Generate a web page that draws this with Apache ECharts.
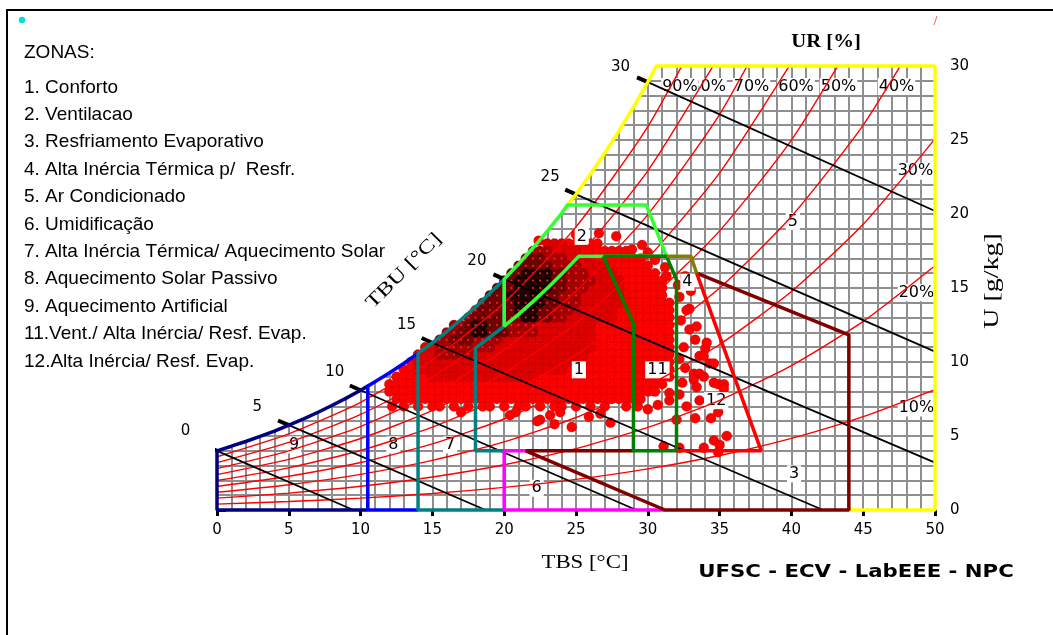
<!DOCTYPE html>
<html>
<head>
<meta charset="utf-8">
<script src="https://cdn.jsdelivr.net/npm/echarts@6/dist/echarts.min.js"></script>
<style>
  html, body { margin: 0; padding: 0; background: #fff; }
  #chart { width: 1053px; height: 635px; }
</style>
</head>
<body>
<div id="chart"></div>
<script>
// Psychrometric chart with Givoni bioclimatic zones and hourly climate records.

// Saturation curve: dry bulb TBS [°C] and humidity ratio U [g/kg]
const SAT_T = [0, 1, 2, 3, 4, 5, 6, 7, 8, 9, 10, 10.5, 11, 12, 13, 14, 15, 16, 17, 18, 19, 20, 21, 22, 23, 24, 24.4, 25, 26, 27, 28, 29, 30, 30.6];
const SAT_U = [4.00, 4.31, 4.63, 4.97, 5.33, 5.73, 6.14, 6.59, 7.06, 7.56, 8.09, 8.37, 8.66, 9.26, 9.90, 10.58, 11.30, 12.06, 12.87, 13.72, 14.64, 15.60, 16.62, 17.70, 18.84, 20.05, 20.60, 21.33, 22.68, 24.11, 25.62, 27.22, 28.91, 30.00];

// Relative humidity curves, U [g/kg] at each TBS of RH_T
const RH_T = [0, 5, 10, 15, 20, 25, 30, 35, 40, 45, 50];
const RH10 = [0.40, 0.57, 0.80, 1.11, 1.53, 2.07, 2.78, 3.68, 4.84, 6.31, 8.14];
const RH20 = [0.80, 1.14, 1.60, 2.23, 3.06, 4.15, 5.58, 7.41, 9.76, 12.74, 16.50];
const RH30 = [1.20, 1.71, 2.41, 3.35, 4.60, 6.25, 8.40, 11.18, 14.76, 19.31, 25.08];
const RH40 = [1.59, 2.28, 3.21, 4.47, 6.15, 8.36, 11.25, 15.00, 19.83, 26.01, 33.90];
const RH50 = [1.99, 2.85, 4.02, 5.60, 7.70, 10.48, 14.13, 18.86, 24.99, 32.86];
const RH60 = [2.39, 3.42, 4.83, 6.73, 9.27, 12.62, 17.03, 22.78, 30.23];
const RH70 = [2.80, 4.00, 5.64, 7.86, 10.84, 14.78, 19.96, 26.73, 35.55];
const RH80 = [3.20, 4.57, 6.46, 9.00, 12.42, 16.95, 22.92, 30.74];
const RH90 = [3.60, 5.15, 7.28, 10.15, 14.01, 19.13, 25.90, 34.80];
const RH_CURVES = [RH10, RH20, RH30, RH40, RH50, RH60, RH70, RH80, RH90];

// RH curve labels
const RH_LABELS = ['80%', '90%', '70%', '60%', '50%', '40%', '30%', '20%', '10%'];
const RH_LABEL_AT = [[34.2, 28.62], [32.24, 28.62], [37.22, 28.62], [40.32, 28.62], [43.28, 28.62], [47.32, 28.62], [48.64, 22.89], [48.71, 14.68], [48.71, 6.9]];

// Wet bulb lines TBU [°C]
const TBU_LABELS = ['0', '5', '10', '15', '20', '25', '30'];
const TBU_TICK_FROM = [[-0.75, 4.32], [4.25, 6.05], [9.25, 8.41], [14.25, 11.62], [19.25, 15.92], [24.25, 21.65], [29.25, 29.23]];
const TBU_ON_SAT = [[0, 4.00], [5, 5.73], [10, 8.09], [15, 11.30], [20, 15.60], [25, 21.33], [30, 28.91]];
const TBU_END = [[9.5, 0], [18.7, 0], [29.2, 0], [42.2, 0], [50, 3.2], [50, 10.7], [50, 20.2]];
const TBU_LABEL_AT = [[-2.2, 5.3], [2.8, 6.95], [8.2, 9.35], [13.2, 12.5], [18.1, 16.8], [23.2, 22.5], [28.1, 29.9]];

// Zone boundaries (corner points; saturation stretches are taken from SAT_T / SAT_U)
const RH80_EDGE = [[20, 12.42], [21, 13.22], [22, 14.08], [23, 14.98], [24, 15.94], [25, 16.95], [25.2, 17.15]];
const Z9_BASE = [[10.5, 0], [0, 0]];
const Z8_BASE = [[14, 0], [10.5, 0]];
const Z7_BASE = [[20, 0], [14, 0]];
const Z7_EDGE = [[20, 12.42], [18, 10.94], [18, 4], [20, 4]];
const Z6_EDGE = [[21.5, 4], [20, 4], [20, 0], [31.2, 0]];
const Z3_EDGE = [[29, 4], [21.5, 4], [31.2, 0], [44, 0], [44, 11.84], [33.4, 16.0]];
const Z5_EDGE = [[50, 30], [50, 0], [44, 0]];
const Z2_TOP = [[31.3, 17.15], [29.9, 20.6]];
const Z2_BOTTOM = [[26.9, 17.15], [31.3, 17.15]];
const Z11_EDGE = [[26.9, 17.15], [31.3, 17.15], [32, 15.56], [32, 4], [29, 4], [29, 12.6], [26.9, 17.15]];
const Z4_EDGE = [[31.3, 17.15], [33.0, 17.15], [33.4, 16.0]];
const Z12_EDGE = [[33.4, 16.0], [37.9, 4], [32, 4]];

const ZONE_LABELS = ['1', '2', '3', '4', '5', '6', '7', '8', '9', '11', '12'];
const ZONE_LABEL_AT = [[25.2, 9.47], [25.4, 18.49], [40.18, 2.44], [32.76, 15.39], [40.1, 19.5], [22.26, 1.47], [16.23, 4.4], [12.28, 4.4], [5.36, 4.4], [30.67, 9.47], [34.76, 7.39]];

const ZONE_NAMES = [
  '1. Conforto',
  '2. Ventilacao',
  '3. Resfriamento Evaporativo',
  '4. Alta Inércia Térmica p/  Resfr.',
  '5. Ar Condicionado',
  '6. Umidificação',
  '7. Alta Inércia Térmica/ Aquecimento Solar',
  '8. Aquecimento Solar Passivo',
  '9. Aquecimento Artificial',
  '11.Vent./ Alta Inércia/ Resf. Evap.',
  '12.Alta Inércia/ Resf. Evap.'
];

// Hourly records, density per 0.5 °C cell: [U, first TBS, [[level, count], ...]]
// level 1 = few hours ... level 5 = most frequent
const CLOUD_RUNS = [
  [18.0, 23.0, [[2, 3], [1, 5]]],
  [17.5, 22.0, [[3, 3], [2, 4], [1, 7]]],
  [17.0, 21.5, [[4, 3], [3, 3], [2, 4], [1, 7]]],
  [16.5, 21.0, [[4, 5], [3, 4], [2, 4], [1, 6]]],
  [16.0, 20.5, [[4, 2], [5, 4], [4, 2], [3, 3], [2, 4], [1, 6]]],
  [15.5, 20.0, [[4, 2], [5, 5], [4, 2], [3, 4], [2, 4], [1, 6]]],
  [15.0, 19.5, [[4, 3], [5, 5], [4, 2], [3, 3], [2, 5], [1, 6]]],
  [14.5, 19.0, [[4, 3], [5, 5], [4, 2], [3, 3], [2, 6], [1, 6]]],
  [14.0, 18.5, [[3, 1], [4, 4], [5, 4], [4, 2], [3, 3], [2, 6], [1, 7]]],
  [13.5, 18.0, [[3, 1], [4, 5], [5, 3], [4, 2], [3, 3], [2, 6], [1, 8]]],
  [13.0, 17.5, [[3, 1], [4, 7], [5, 2], [4, 2], [3, 2], [2, 7], [1, 8]]],
  [12.5, 16.5, [[3, 2], [4, 1], [5, 2], [4, 2], [3, 5], [2, 8], [1, 11]]],
  [12.0, 16.0, [[3, 2], [4, 2], [5, 2], [4, 3], [3, 4], [2, 8], [1, 11]]],
  [11.5, 15.5, [[3, 2], [4, 3], [3, 4], [2, 13], [1, 11]]],
  [11.0, 14.5, [[2, 2], [3, 8], [2, 14], [1, 11]]],
  [10.5, 14.0, [[2, 3], [3, 5], [2, 16], [1, 12]]],
  [10.0, 13.5, [[1, 1], [2, 23], [1, 13]]],
  [9.5, 13.0, [[1, 2], [2, 21], [1, 15]]],
  [9.0, 12.5, [[1, 5], [2, 15], [1, 19]]],
  [8.5, 12.0, [[1, 39]]],
  [8.0, 12.0, [[1, 38]]],
  [7.5, 12.5, [[1, 35]]]
];

// Isolated hourly records [TBS, U]
const CLOUD_SPARSE = [
  [13, 7], [14, 7], [15, 7], [15.5, 7], [16.5, 7], [17.5, 7], [18.5, 7], [19, 7], [20, 7], [21, 7],
  [21.5, 7], [22.5, 7], [23.5, 7], [24, 7], [25, 7], [26, 7], [27, 7], [28.5, 7],
  [12.2, 7.0], [17.0, 6.6], [20.4, 6.4], [20.8, 6.6], [22.5, 6.1], [23.2, 6.4], [23.5, 5.8], [23.9, 6.6],
  [24.7, 5.6], [25.9, 6.3], [26.7, 6.5], [27.4, 5.9], [22.3, 6.0], [29.3, 7.0], [30.0, 6.8],
  [31.3, 15.8], [32.1, 15.2], [32.6, 15.8], [33.0, 14.8], [32.2, 14.4], [32.9, 13.6], [32.7, 13.5],
  [32.3, 12.8], [32.9, 12.2], [33.4, 12.4], [33.3, 11.5], [32.5, 11.0], [34.0, 10.9], [34.1, 11.3],
  [33.6, 10.4], [33.9, 10.4], [32.2, 10.2], [34.3, 9.9], [34.6, 9.9], [32.6, 9.6], [33.2, 9.2],
  [33.6, 9.2], [33.9, 9.0], [33.2, 8.8], [32.4, 8.6], [33.4, 8.3], [34.6, 8.6], [34.9, 8.5],
  [35.3, 8.5], [35.3, 8.2], [33.6, 7.4], [32.7, 7.0], [31.5, 7.4], [31.5, 7.9], [32.2, 7.8],
  [30.7, 7.1], [34.9, 6.6], [34.4, 6.2], [33.3, 6.2], [32.0, 6.1], [34.6, 4.7], [35.5, 5.0],
  [35.0, 4.4], [34.9, 3.9], [31.1, 4.3], [33.9, 4.2], [32.2, 4.2],
  [26.6, 18.7], [27.8, 18.5], [29.6, 17.9], [28.9, 17.6], [30.5, 16.9], [31.2, 16.4], [25.0, 18.6],
  [22.4, 18.2], [30.0, 17.4]
];

const LEVEL_COLORS = ['#ff0000', '#e00000', '#a80000', '#6e0000', '#1a0000'];
const GRID_COLOR = '#8f8f8f';

// ---------- build helpers ----------
const SAT = SAT_T.map((t, i) => [t, SAT_U[i]]);
function satBetween(a, b) {
  return SAT.filter(p => p[0] >= a && p[0] <= b);
}

const cloud = [];
CLOUD_RUNS.forEach(([u, t0, runs]) => {
  let t = t0;
  runs.forEach(([lvl, n]) => {
    for (let k = 0; k < n; k++) {
      if (lvl > 0) cloud.push([t, u, lvl]);
      t += 0.5;
    }
  });
});
CLOUD_SPARSE.forEach(([t, u]) => cloud.push([t, u, 1]));
cloud.sort((a, b) => a[2] - b[2]);

function lineSeries(points, color, width, extra) {
  return Object.assign({
    type: 'line', data: points, symbol: 'none', showSymbol: false,
    lineStyle: { color: color, width: width }, clip: false, silent: true
  }, extra || {});
}

function labelSeries(names, positions, labelOpts) {
  return {
    type: 'scatter', silent: true, clip: false, symbolSize: 1,
    itemStyle: { color: 'rgba(0,0,0,0)', opacity: 1 },
    data: names.map((n, i) => ({ name: n, value: positions[i] })),
    label: Object.assign({ show: true, position: 'inside', formatter: '{b}', color: '#000', opacity: 1, fontFamily: 'DejaVu Sans', fontSize: 15 }, labelOpts)
  };
}

const series = [];

// white area above the saturation curve hides the grid there
const MASK = [[-0.4, 4.0]].concat(SAT, [[30.6, 30.5], [-0.4, 30.5]]);
series.push({
  type: 'custom', silent: true, data: [[0, 0]],
  renderItem: function (params, api) {
    return { type: 'polygon', shape: { points: MASK.map(p => api.coord(p)) }, style: { fill: '#ffffff' } };
  }
});

// relative humidity curves
RH_CURVES.forEach(arr => {
  series.push(lineSeries(arr.map((u, i) => [RH_T[i], u]), '#ff0000', 1.4, { clip: true, smooth: 0.2 }));
});

// wet bulb lines with their ticks past the saturation curve
TBU_ON_SAT.forEach((p, i) => {
  series.push(lineSeries([p, TBU_END[i]], '#000000', 1.8));
  series.push(lineSeries([TBU_TICK_FROM[i], p], '#000000', 4));
});

// hourly records
series.push({
  type: 'scatter', silent: true, clip: false, symbolSize: 10,
  data: cloud,
  itemStyle: { opacity: 1, color: p => LEVEL_COLORS[p.data[2] - 1], borderColor: 'rgba(110,0,0,0.28)', borderWidth: 0.8 }
});
// small marks at the centre of the frequent records
series.push({
  type: 'scatter', silent: true, clip: false, symbolSize: 2,
  data: cloud.filter(p => p[2] >= 3),
  itemStyle: { color: '#ff2a2a', opacity: 1 }
});

// zone outlines
const W = 3.5;
series.push(lineSeries(Z9_BASE.concat(satBetween(0, 10.5)), '#000080', W));
series.push(lineSeries(Z8_BASE.concat(satBetween(10.5, 14)), '#0000ff', W));
series.push(lineSeries(Z7_BASE.concat(satBetween(14, 20), Z7_EDGE), '#008080', W));
series.push(lineSeries(Z6_EDGE, '#ff00ff', W));
series.push(lineSeries(satBetween(24.4, 30.6).concat(Z5_EDGE), '#ffff00', W));
series.push(lineSeries(Z3_EDGE, '#800000', W));
series.push(lineSeries(Z2_TOP.concat(satBetween(20, 24.4).reverse(), RH80_EDGE, Z2_BOTTOM), '#33ff33', W));
series.push(lineSeries(Z11_EDGE, '#008000', W));
series.push(lineSeries(Z4_EDGE, '#808000', W));
series.push(lineSeries(Z12_EDGE, '#ff0000', W));

// labels
series.push(labelSeries(RH_LABELS, RH_LABEL_AT, { fontSize: 16, backgroundColor: '#fff', padding: [1, 1, 0, 1] }));
series.push(labelSeries(TBU_LABELS, TBU_LABEL_AT, { fontSize: 15 }));
series.push(labelSeries(ZONE_LABELS, ZONE_LABEL_AT, { fontSize: 16, backgroundColor: '#fff', padding: [1, 2, 0, 2] }));

// ---------- text outside the plot ----------
const TOP_Z = 100;
const graphics = [
  { type: 'rect', z: TOP_Z, silent: true, shape: { x: 7, y: 10, width: 1100, height: 700 }, style: { fill: 'none', stroke: '#000', lineWidth: 2 } },
  { type: 'circle', z: TOP_Z, silent: true, shape: { cx: 22, cy: 20, r: 3.2 }, style: { fill: '#00e0e0' } },
  { type: 'line', z: TOP_Z, silent: true, shape: { x1: 934, y1: 25, x2: 937, y2: 16 }, style: { stroke: '#ff6060', lineWidth: 1 } },
  { type: 'text', z: TOP_Z, silent: true, x: 24, y: 53, style: { text: 'ZONAS:', font: '19px "Liberation Sans"', fill: '#000', verticalAlign: 'middle' } }
];
ZONE_NAMES.forEach((t, i) => {
  graphics.push({ type: 'text', z: TOP_Z, silent: true, x: 24, y: 87.3 + 27.4 * i, style: { text: t, font: '19px "Liberation Sans"', fill: '#000', verticalAlign: 'middle' } });
});
graphics.push(
  { type: 'text', z: TOP_Z, silent: true, x: 404, y: 271, rotation: Math.PI / 4, scaleX: 1.3, style: { text: 'TBU [°C]', font: '19px "Liberation Serif"', fill: '#000', align: 'center', verticalAlign: 'middle' } },
  { type: 'text', z: TOP_Z, silent: true, x: 585, y: 563, scaleX: 1.2, style: { text: 'TBS [°C]', font: '19px "Liberation Serif"', fill: '#000', align: 'center', verticalAlign: 'middle' } },
  { type: 'text', z: TOP_Z, silent: true, x: 826, y: 42, scaleX: 1.15, style: { text: 'UR [%]', font: 'bold 18px "Liberation Serif"', fill: '#000', align: 'center', verticalAlign: 'middle' } },
  { type: 'text', z: TOP_Z, silent: true, x: 993, y: 281, rotation: Math.PI / 2, scaleX: 1.4, style: { text: 'U [g/kg]', font: '20px "Liberation Serif"', fill: '#000', align: 'center', verticalAlign: 'middle' } },
  { type: 'text', z: TOP_Z, silent: true, x: 856, y: 572, scaleX: 1.18, style: { text: 'UFSC - ECV - LabEEE - NPC', font: 'bold 18px "DejaVu Sans"', fill: '#000', align: 'center', verticalAlign: 'middle' } }
);

const axisCommon = {
  type: 'value', interval: 5,
  axisLine: { show: false },
  axisTick: { show: true, lineStyle: { color: '#000', width: 3 } },
  axisLabel: { color: '#000', fontFamily: 'DejaVu Sans', fontSize: 15 },
  splitLine: { show: true, lineStyle: { color: GRID_COLOR, width: 2 } },
  minorTick: { show: false, splitNumber: 5 },
  minorSplitLine: { show: true, lineStyle: { color: GRID_COLOR, width: 2 } }
};

const chart = echarts.init(document.getElementById('chart'), null, { renderer: 'canvas' });
chart.setOption({
  animation: false,
  backgroundColor: '#ffffff',
  grid: { left: 217, right: 118, top: 66, bottom: 125, show: false },
  xAxis: Object.assign({}, axisCommon, {
    min: 0, max: 50, position: 'bottom',
    axisTick: { show: true, length: 6, lineStyle: { color: '#000', width: 3 } },
    axisLabel: Object.assign({}, axisCommon.axisLabel, { margin: 13 })
  }),
  yAxis: Object.assign({}, axisCommon, {
    min: 0, max: 30, position: 'right',
    axisTick: { show: true, length: 9, lineStyle: { color: '#000', width: 3 } },
    axisLabel: Object.assign({}, axisCommon.axisLabel, { margin: 15 })
  }),
  graphic: graphics,
  series: series
});
</script>
</body>
</html>
